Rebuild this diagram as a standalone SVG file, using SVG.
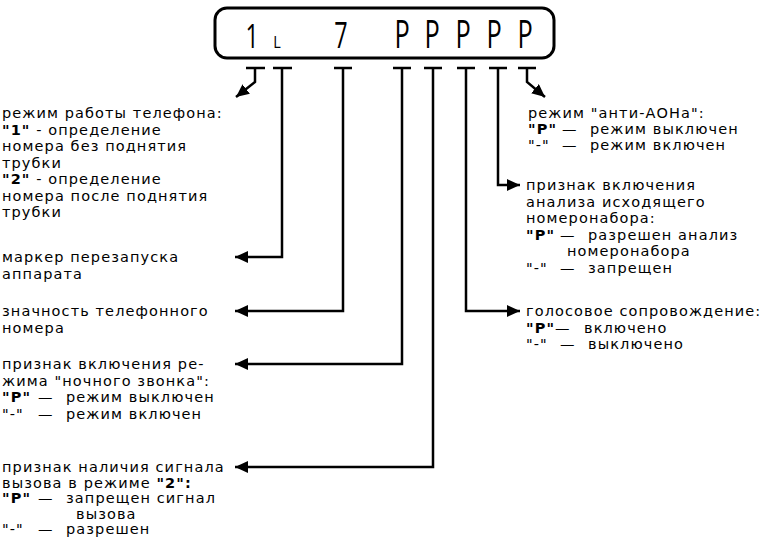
<svg xmlns="http://www.w3.org/2000/svg" width="777" height="538" viewBox="0 0 777 538">
<defs>
<marker id="ah" markerUnits="userSpaceOnUse" markerWidth="15" markerHeight="12" refX="13" refY="6" orient="auto">
<path d="M0,0 L13,6 L0,12 Z" fill="#000"/>
</marker>
<style>
.t{font-family:"DejaVu Sans","Noto Sans",sans-serif;font-size:14.5px;letter-spacing:1.1px;fill:#000}
.b{font-weight:bold}
.d{font-family:"Open Sans","DejaVu Sans",sans-serif;fill:#000}
.c{fill:none;stroke:#000;stroke-width:2.5}
.tk{fill:none;stroke:#000;stroke-width:2.5}
</style>
</defs>
<rect width="777" height="538" fill="#fff"/>

<g id="display">
<rect x="215" y="8" width="339" height="50" rx="12" fill="none" stroke="#000" stroke-width="3"/>
<text class="d" font-size="33" text-anchor="middle" transform="translate(252,48) scale(0.7,1)">1</text>
<text class="d" font-size="16" text-anchor="middle" transform="translate(277,48) scale(0.9,1)">L</text>
<text class="d" font-size="36" text-anchor="middle" transform="translate(341,48) scale(0.65,1)">7</text>
<text class="d" font-size="39" text-anchor="middle" transform="translate(402,48) scale(0.65,1)">P</text>
<text class="d" font-size="39" text-anchor="middle" transform="translate(432,48) scale(0.65,1)">P</text>
<text class="d" font-size="39" text-anchor="middle" transform="translate(463,48) scale(0.65,1)">P</text>
<text class="d" font-size="39" text-anchor="middle" transform="translate(494,48) scale(0.65,1)">P</text>
<text class="d" font-size="39" text-anchor="middle" transform="translate(525,48) scale(0.65,1)">P</text>
</g>

<g id="ticks">
<path class="tk" d="M246,68 H265 M273,68 H292 M334,68 H352 M393,68 H411 M424,68 H442 M457,68 H475 M489,68 H507 M518,68 H536"/>
</g>

<g id="connectors">
<path class="c" d="M255,68 V82 L236,97" marker-end="url(#ah)"/>
<path class="c" d="M282,68 V257 H235" marker-end="url(#ah)"/>
<path class="c" d="M343,68 V311 H235" marker-end="url(#ah)"/>
<path class="c" d="M402,68 V364 H235" marker-end="url(#ah)"/>
<path class="c" d="M433,68 V467 H235" marker-end="url(#ah)"/>
<path class="c" d="M466,68 V311 H520" marker-end="url(#ah)"/>
<path class="c" d="M498,68 V185 H520" marker-end="url(#ah)"/>
<path class="c" d="M527,68 V82 L545,97" marker-end="url(#ah)"/>
</g>

<g id="mode">
<text class="t" x="2" y="118">режим работы телефона:</text>
<text class="t" x="2" y="134.5"><tspan class="b">"1"</tspan> - определение</text>
<text class="t" x="2" y="151">номера без поднятия</text>
<text class="t" x="2" y="167.5">трубки</text>
<text class="t" x="2" y="184"><tspan class="b">"2"</tspan> - определение</text>
<text class="t" x="2" y="200.5">номера после поднятия</text>
<text class="t" x="2" y="217">трубки</text>
</g>

<g id="restart">
<text class="t" x="2" y="262">маркер перезапуска</text>
<text class="t" x="2" y="278.5">аппарата</text>
</g>

<g id="digits">
<text class="t" x="2" y="316">значность телефонного</text>
<text class="t" x="2" y="332.5">номера</text>
</g>

<g id="night">
<text class="t" x="2" y="369">признак включения ре-</text>
<text class="t" x="2" y="385.5">жима "ночного звонка":</text>
<text class="t" x="2" y="402"><tspan class="b">"P"</tspan><tspan x="38">—</tspan><tspan x="66">режим выключен</tspan></text>
<text class="t" x="2" y="418.5">"-"<tspan x="38">—</tspan><tspan x="66">режим включен</tspan></text>
</g>

<g id="ring">
<text class="t" x="2" y="472">признак наличия сигнала</text>
<text class="t" x="2" y="487.5">вызова в режиме <tspan class="b">"2":</tspan></text>
<text class="t" x="2" y="503"><tspan class="b">"P"</tspan><tspan x="38">—</tspan><tspan x="66">запрещен сигнал</tspan></text>
<text class="t" x="76" y="518.5">вызова</text>
<text class="t" x="2" y="534">"-"<tspan x="38">—</tspan><tspan x="66">разрешен</tspan></text>
</g>

<g id="antiaon">
<text class="t" x="528" y="118">режим "анти-АОНа":</text>
<text class="t" x="528" y="134"><tspan class="b">"P"</tspan><tspan x="562">—</tspan><tspan x="590">режим выключен</tspan></text>
<text class="t" x="528" y="150">"-"<tspan x="562">—</tspan><tspan x="590">режим включен</tspan></text>
</g>

<g id="outgoing">
<text class="t" x="526" y="190">признак включения</text>
<text class="t" x="526" y="206.5">анализа исходящего</text>
<text class="t" x="526" y="223">номеронабора:</text>
<text class="t" x="526" y="239.5"><tspan class="b">"P"</tspan><tspan x="560">—</tspan><tspan x="588">разрешен анализ</tspan></text>
<text class="t" x="567" y="256">номеронабора</text>
<text class="t" x="526" y="272.5">"-"<tspan x="560">—</tspan><tspan x="588">запрещен</tspan></text>
</g>

<g id="voice">
<text class="t" x="526" y="316">голосовое сопровождение:</text>
<text class="t" x="526" y="332.5"><tspan class="b">"P"</tspan><tspan x="555">—</tspan><tspan x="584">включено</tspan></text>
<text class="t" x="526" y="349">"-"<tspan x="560">—</tspan><tspan x="588">выключено</tspan></text>
</g>
</svg>
